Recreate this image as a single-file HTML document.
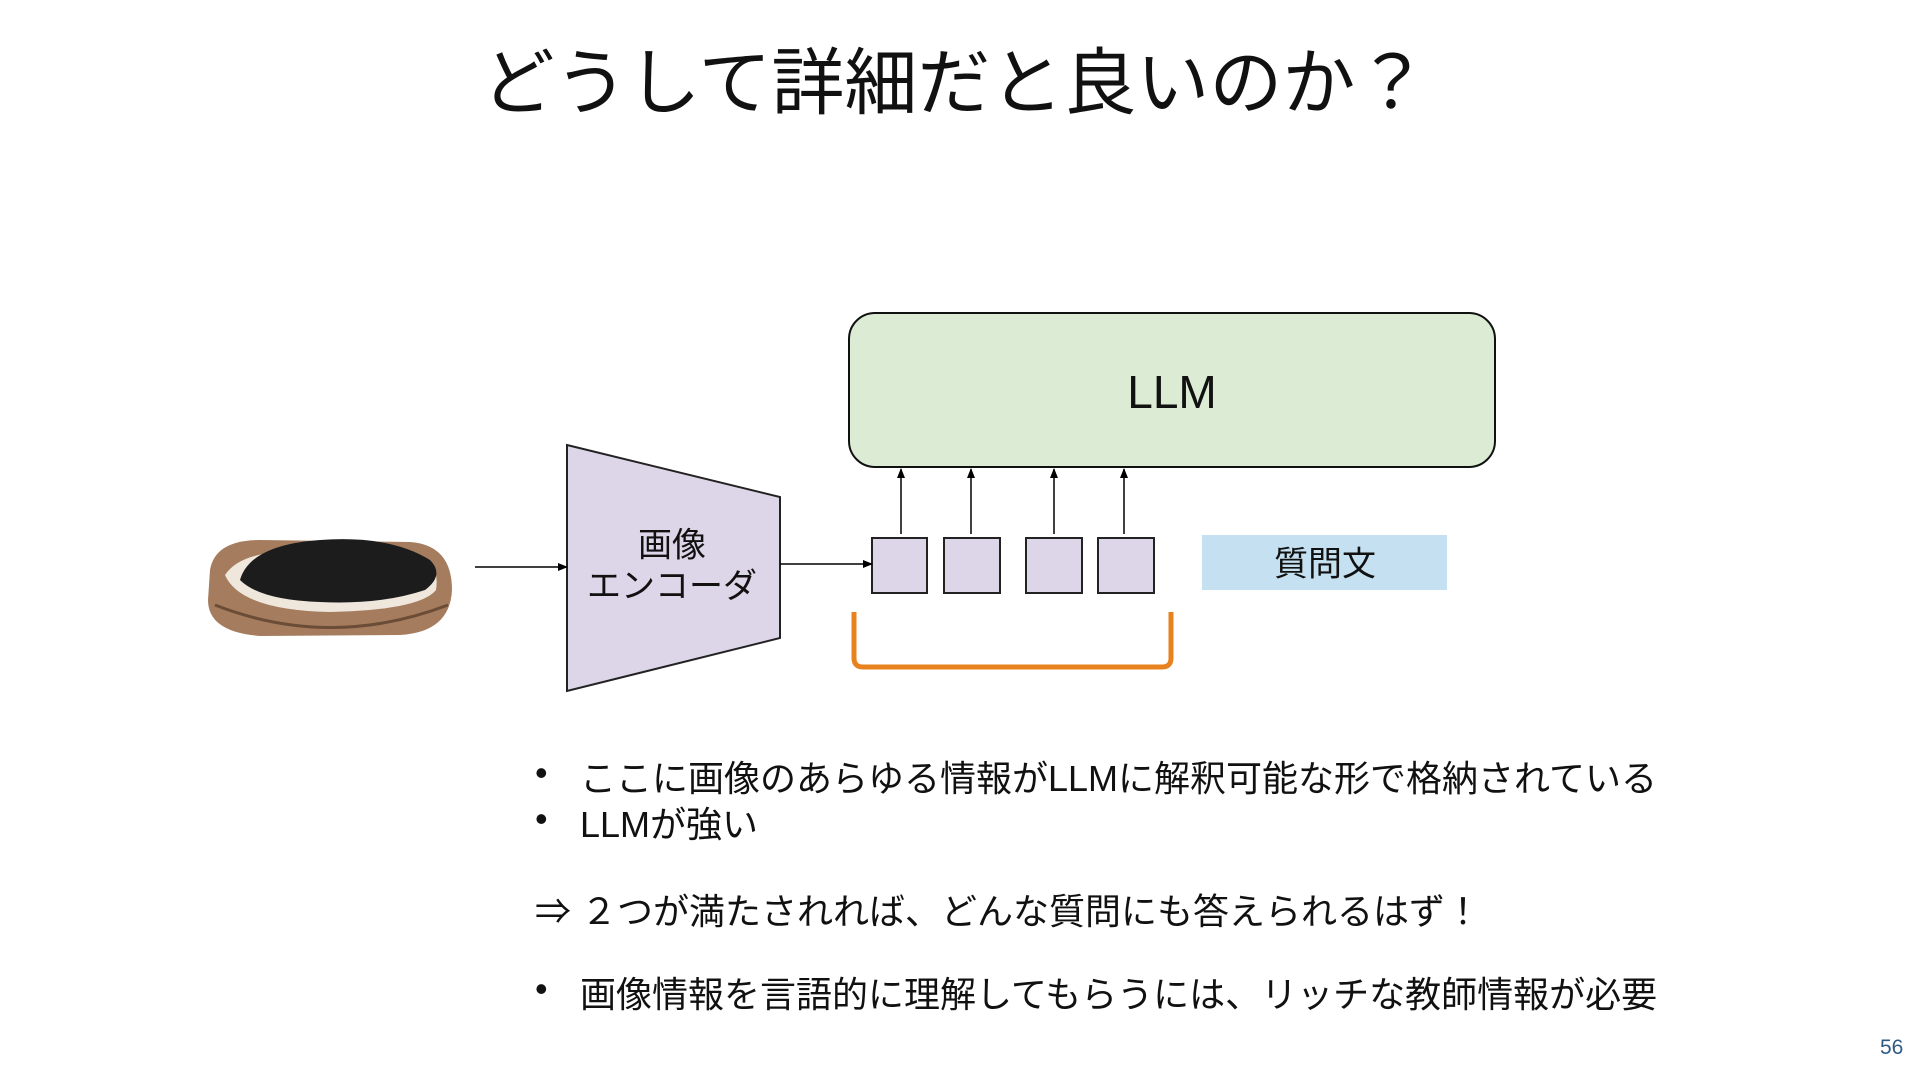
<!DOCTYPE html>
<html><head><meta charset="utf-8"><style>
html,body{margin:0;padding:0;background:#fff;}
body{width:1920px;height:1080px;position:relative;overflow:hidden;font-family:"Liberation Sans","Noto Sans CJK JP",sans-serif;color:#111;}
.t{position:absolute;white-space:nowrap;}
.b{font-size:36px;}
</style></head><body>
<div class="t" style="left:0;width:1910px;text-align:center;top:24px;font-size:73px;">どうして詳細だと良いのか？</div>
<svg width="1920" height="1080" style="position:absolute;left:0;top:0">
<defs><marker id="a" markerWidth="10" markerHeight="10" refX="9" refY="5" orient="auto" markerUnits="userSpaceOnUse"><path d="M0,1 L10,5 L0,9 z" fill="#000"/></marker></defs>
<rect x="849" y="313" width="646" height="154" rx="26" fill="#dbebd4" stroke="#111" stroke-width="2"/>
<polygon points="567,445 780,497 780,638 567,691" fill="#ddd5e8" stroke="#222" stroke-width="2"/>
<g fill="#ddd5e8" stroke="#222" stroke-width="2">
<rect x="872" y="538" width="55" height="55"/><rect x="944" y="538" width="56" height="55"/>
<rect x="1026" y="538" width="56" height="55"/><rect x="1098" y="538" width="56" height="55"/></g>
<rect x="1202" y="535" width="245" height="55" fill="#c5e0f0"/>
<g stroke="#000" stroke-width="1.5" marker-end="url(#a)">
<line x1="901" y1="534" x2="901" y2="469"/><line x1="971" y1="534" x2="971" y2="469"/>
<line x1="1054" y1="534" x2="1054" y2="469"/><line x1="1124" y1="534" x2="1124" y2="469"/>
<line x1="475" y1="567" x2="567" y2="567"/><line x1="780" y1="564" x2="872" y2="564"/></g>
<path d="M854,612 L854,658 Q854,667 863,667 L1162,667 Q1171,667 1171,658 L1171,612" fill="none" stroke="#e8821e" stroke-width="5"/>
<path d="M210,570 Q215,540 260,540 L410,542 Q452,545 452,590 Q450,632 400,635 L260,636 Q208,632 208,600 Z" fill="#a57d5e"/>
<path d="M225,575 Q240,552 290,552 L420,555 Q440,565 436,590 Q420,610 330,612 Q240,610 225,575 Z" fill="#efe6dc"/>
<path d="M240,580 Q250,545 320,540 Q390,535 430,560 Q445,575 425,590 Q380,605 320,602 Q260,600 240,580 Z" fill="#1c1c1c"/>
<path d="M215,605 Q330,650 448,605" stroke="#6b4c36" stroke-width="3" fill="none"/>
</svg>
<div class="t" style="left:1172px;top:392px;transform:translate(-50%,-50%);font-size:46px;">LLM</div>
<div class="t" style="left:672px;top:542px;transform:translate(-50%,-50%);font-size:34px;">画像</div>
<div class="t" style="left:672px;top:583px;transform:translate(-50%,-50%);font-size:34px;">エンコーダ</div>
<div class="t" style="left:1325px;top:561px;transform:translate(-50%,-50%);font-size:34px;">質問文</div>
<div class="t b" style="left:535px;top:752px;">•</div>
<div class="t b" style="left:580px;top:750px;">ここに画像のあらゆる情報がLLMに解釈可能な形で格納されている</div>
<div class="t b" style="left:535px;top:798px;">•</div>
<div class="t b" style="left:580px;top:796px;">LLMが強い</div>
<div class="t b" style="left:535px;top:883px;">⇒ ２つが満たされれば、どんな質問にも答えられるはず！</div>
<div class="t b" style="left:535px;top:968px;">•</div>
<div class="t b" style="left:580px;top:966px;">画像情報を言語的に理解してもらうには、リッチな教師情報が必要</div>
<div class="t" style="left:1880px;top:1036px;font-size:21px;color:#2f5b86;">56</div>
</body></html>
